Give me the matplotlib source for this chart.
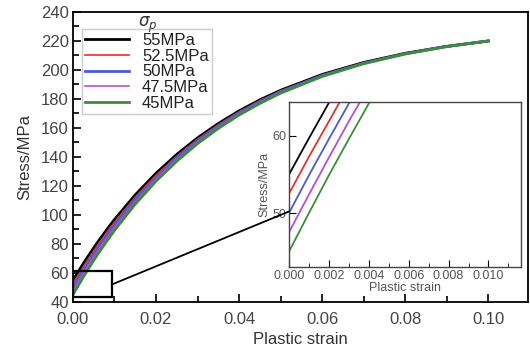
import numpy as np
import matplotlib
matplotlib.use("Agg")
from matplotlib import pyplot as plt
from matplotlib.patches import Rectangle, ConnectionPatch
from matplotlib.ticker import MultipleLocator

plt.rcParams['font.family'] = ['Liberation Sans', 'DejaVu Sans']

# データ
strain = [0, 0.001, 0.002, 0.003, 0.004, 0.005, 0.006, 0.008, 0.010, 0.015,
          0.020, 0.025, 0.030, 0.035, 0.040, 0.045, 0.050, 0.060, 0.070,
          0.080, 0.090, 0.100]
s55 = [55.0, 59.7, 64.3, 68.8, 73.1, 77.3, 81.5, 89.4, 96.9, 113.9, 128.8,
       141.8, 153.2, 163.1, 171.8, 179.4, 186.0, 196.9, 205.2, 211.5, 216.3, 220.0]
s525 = [52.5, 57.3, 61.9, 66.5, 70.9, 75.2, 79.4, 87.4, 95.0, 112.3, 127.4,
        140.6, 152.2, 162.3, 171.1, 178.8, 185.5, 196.5, 204.9, 211.4, 216.3, 220.0]
s50 = [50.0, 54.9, 59.6, 64.2, 68.7, 73.0, 77.3, 85.4, 93.1, 110.7, 126.0,
       139.5, 151.2, 161.4, 170.4, 178.2, 185.0, 196.2, 204.7, 211.2, 216.2, 220.0]
s475 = [47.5, 52.4, 57.2, 61.9, 66.4, 70.9, 75.2, 83.4, 91.3, 109.1, 124.7,
        138.3, 150.2, 160.6, 169.6, 177.6, 184.5, 195.8, 204.5, 211.1, 216.1, 220.0]
s45 = [45.0, 50.0, 54.9, 59.6, 64.2, 68.7, 73.1, 81.4, 89.4, 107.5, 123.3,
       137.1, 149.2, 159.7, 168.9, 176.9, 184.0, 195.5, 204.3, 211.0, 216.1, 220.0]
labels = ['55MPa', '52.5MPa', '50MPa', '47.5MPa', '45MPa']
series = [s55, s525, s50, s475, s45]
colors = ['black', '#e8302a', '#4a5cd0', '#b54fd2', '#3c8c3c']
widths = [2.0, 1.2, 2.0, 1.2, 2.0]

fig = plt.figure(figsize=(5.3, 3.55), dpi=100)
ax = fig.add_axes([0.1377, 0.1493, 0.8585, 0.8169])
for y, c, lw, lb in zip(series, colors, widths, labels):
    ax.plot(strain, y, color=c, lw=lw, label=lb)

ax.set_xlim(0, 0.1096)
ax.set_ylim(40, 240)
ax.xaxis.set_major_locator(MultipleLocator(0.02))
ax.xaxis.set_minor_locator(MultipleLocator(0.01))
ax.yaxis.set_major_locator(MultipleLocator(20))
ax.yaxis.set_minor_locator(MultipleLocator(10))
ax.xaxis.set_major_formatter(lambda v, p: f"{v:.2f}")
ax.tick_params(which='both', direction='in', labelsize=12, labelcolor='#444444', width=1.2)
ax.tick_params(which='major', length=6)
ax.tick_params(which='minor', length=4)
ax.tick_params(axis='x', pad=7)
ax.tick_params(axis='y', pad=3)
for sp in ax.spines.values():
    sp.set_linewidth(1.3)
ax.set_xlabel('Plastic strain', fontsize=12, color='#333333', labelpad=4)
ax.set_ylabel('Stress/MPa', fontsize=12, color='#333333', labelpad=6)

leg = ax.legend(loc='upper left', bbox_to_anchor=(0.02, 0.94), fontsize=12,
                handlelength=2.6, handletextpad=0.8, labelspacing=0.05,
                borderpad=0.2, borderaxespad=0, fancybox=False, framealpha=1)
leg.get_frame().set_edgecolor('#cccccc')
leg.get_frame().set_linewidth(1.0)
for t in leg.get_texts():
    t.set_color('#222222')
ax.text(0.165, 0.99, r'$\sigma_p$', transform=ax.transAxes, fontsize=12,
        color='#333333', ha='center', va='top', zorder=6)

# 拡大枠
ax.add_patch(Rectangle((0, 43.3), 0.0093, 17.8, fill=False, ec='black', lw=1.6, zorder=5))

# 拡大図
axin = fig.add_axes([0.5453, 0.2479, 0.4377, 0.4648])
for y, c in zip(series, colors):
    axin.plot(strain, y, color=c, lw=1.3)
axin.set_xlim(0, 0.01163)
axin.set_ylim(43.0, 64.4)
axin.xaxis.set_major_locator(MultipleLocator(0.002))
axin.xaxis.set_minor_locator(MultipleLocator(0.001))
axin.yaxis.set_major_locator(MultipleLocator(10))
axin.xaxis.set_major_formatter(lambda v, p: f"{v:.3f}")
axin.tick_params(which='both', direction='in', labelsize=9, labelcolor='#555555', pad=2)
axin.tick_params(which='major', length=5)
axin.tick_params(which='minor', length=3)
for sp in axin.spines.values():
    sp.set_color('#444444')
    sp.set_linewidth(1.0)
axin.set_xlabel('Plastic strain', fontsize=9, color='#555555', labelpad=0)
axin.set_ylabel('Stress/MPa', fontsize=9, color='#555555', labelpad=1)

con = ConnectionPatch(xyA=(0.0093, 52.0), coordsA=ax.transData,
                      xyB=(0.0, 50.2), coordsB=axin.transData,
                      color='black', lw=1.3)
fig.add_artist(con)

fig.savefig('out.png', dpi=100)
